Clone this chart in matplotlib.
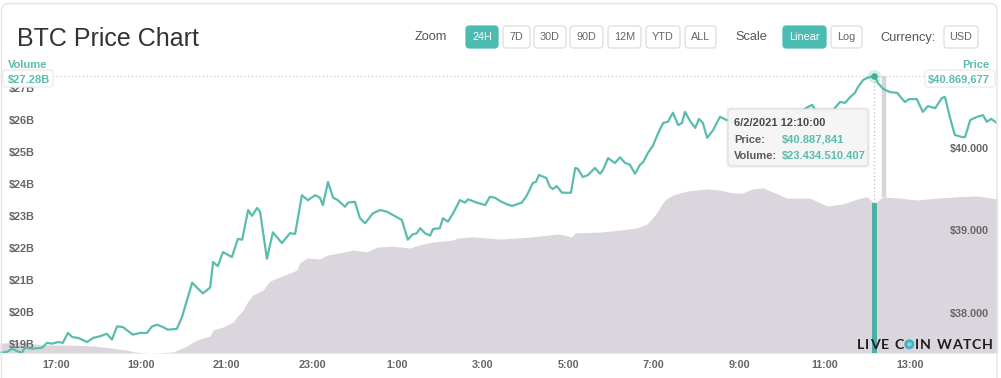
import matplotlib
matplotlib.use('Agg')
import matplotlib.pyplot as plt
import matplotlib.transforms as mtransforms
from matplotlib.patches import FancyBboxPatch, Circle
from matplotlib import font_manager as fm

plt.rcParams['font.family'] = ['Liberation Sans', 'DejaVu Sans']

# ---------------- data ----------------
price_hours = [15.69, 15.85, 15.97, 16.09, 16.20, 16.27, 16.46, 16.67, 16.79, 16.91,
               17.05, 17.16, 17.28, 17.38, 17.52, 17.73, 17.87, 18.03, 18.19, 18.31,
               18.43, 18.57, 18.80, 18.97, 19.13, 19.25, 19.37, 19.51, 19.62, 19.83,
               19.95, 20.07, 20.19, 20.30, 20.44, 20.61, 20.68, 20.79, 20.91, 21.12,
               21.26, 21.36, 21.50, 21.59, 21.71, 21.78, 21.94, 22.08, 22.29, 22.48,
               22.60, 22.76, 22.90, 23.07, 23.18, 23.25, 23.37, 23.49, 23.60, 23.77,
               23.84, 24.00, 24.12, 24.24, 24.42, 24.59, 24.75, 24.89, 25.10, 25.24,
               25.34, 25.45, 25.53, 25.64, 25.76, 25.83, 25.99, 26.06, 26.18, 26.30,
               26.46, 26.58, 26.65, 26.86, 27.05, 27.16, 27.28, 27.40, 27.56, 27.68,
               27.91, 28.03, 28.17, 28.24, 28.31, 28.48, 28.57, 28.64, 28.73, 28.85,
               29.06, 29.16, 29.22, 29.34, 29.46, 29.62, 29.74, 29.81, 29.93, 30.09,
               30.21, 30.33, 30.44, 30.56, 30.68, 30.75, 30.86, 30.98, 31.10, 31.22,
               31.33, 31.45, 31.57, 31.66, 31.73, 31.85, 31.97, 32.06, 32.15, 32.25,
               32.39, 32.55, 32.71, 32.90, 33.14, 33.37, 33.60, 33.84, 34.07, 34.31,
               34.49, 34.61, 34.71, 34.78, 34.99, 35.20, 35.36, 35.48, 35.60, 35.71,
               35.78, 35.90, 35.99, 36.17, 36.25, 36.37, 36.53, 36.70, 36.88, 36.98,
               37.16, 37.30, 37.42, 37.59, 37.75, 37.82, 37.94, 38.05, 38.22, 38.29,
               38.41, 38.57, 38.71, 38.80, 38.90, 39.04]
price_values = [37530, 37540, 37580, 37550, 37530, 37590, 37580, 37590, 37650, 37640,
                37660, 37650, 37770, 37720, 37710, 37660, 37710, 37730, 37760, 37690,
                37850, 37840, 37750, 37770, 37770, 37850, 37870, 37840, 37810, 37820,
                37960, 38170, 38380, 38320, 38250, 38320, 38630, 38580, 38750, 38690,
                38910, 38900, 39260, 39190, 39285, 39240, 38670, 38990, 38860, 38980,
                38970, 39440, 39380, 39440, 39410, 39320, 39600, 39410, 39380, 39300,
                39350, 39360, 39160, 39100, 39220, 39260, 39240, 39200, 39140, 38900,
                38960, 38980, 39040, 38980, 38950, 39030, 39040, 39160, 39120, 39220,
                39380, 39350, 39390, 39350, 39320, 39420, 39410, 39370, 39330, 39310,
                39350, 39440, 39590, 39600, 39685, 39650, 39540, 39515, 39550, 39470,
                39470, 39770, 39760, 39660, 39685, 39770, 39700, 39745, 39890, 39830,
                39900, 39830, 39810, 39700, 39810, 39840, 39950, 40040, 40190, 40315,
                40330, 40440, 40290, 40315, 40450, 40340, 40255, 40365, 40315, 40135,
                40230, 40390, 40350, 40330, 40280, 40350, 40300, 40375, 40340, 40425,
                40470, 40510, 40535, 40470, 40450, 40470, 40570, 40560, 40630, 40680,
                40750, 40835, 40860, 40888, 40800, 40730, 40690, 40680, 40570, 40605,
                40605, 40450, 40520, 40495, 40620, 40630, 40375, 40170, 40145, 40145,
                40350, 40390, 40410, 40330, 40365, 40315]

volume_hours = [15.69, 16.16, 16.70, 17.26, 17.87, 18.27, 18.66, 18.85, 19.20, 19.74,
                20.07, 20.21, 20.37, 20.61, 20.68, 20.91, 21.15, 21.24, 21.38, 21.47,
                21.61, 21.85, 22.01, 22.25, 22.48, 22.64, 22.71, 22.88, 23.18, 23.35,
                23.65, 23.96, 24.28, 24.52, 24.89, 25.29, 25.52, 25.83, 26.30, 26.39,
                26.77, 27.40, 28.17, 28.76, 29.08, 29.15, 29.74, 30.21, 30.61, 30.84,
                31.03, 31.15, 31.26, 31.45, 31.78, 32.25, 32.55, 32.85, 33.07, 33.32,
                33.56, 33.84, 34.12, 34.66, 35.06, 35.43, 35.83, 35.99, 36.17, 36.37,
                36.77, 37.16, 37.63, 38.10, 38.57, 39.04]
volume_billions = [19.06, 19.09, 19.00, 19.00, 18.97, 18.91, 18.84, 18.78, 18.75, 18.78,
                   18.97, 19.09, 19.19, 19.28, 19.47, 19.56, 19.72, 19.88, 20.09, 20.31,
                   20.56, 20.72, 21.00, 21.13, 21.25, 21.34, 21.56, 21.72, 21.69, 21.81,
                   21.88, 21.97, 21.91, 22.06, 22.09, 22.03, 22.13, 22.22, 22.28, 22.34,
                   22.38, 22.31, 22.38, 22.47, 22.38, 22.50, 22.53, 22.59, 22.66, 22.78,
                   23.06, 23.31, 23.53, 23.69, 23.81, 23.88, 23.84, 23.75, 23.75, 23.88,
                   23.91, 23.75, 23.59, 23.59, 23.34, 23.41, 23.59, 23.63, 23.43, 23.63,
                   23.59, 23.53, 23.59, 23.63, 23.66, 23.56]

volume_ticks = [19, 20, 21, 22, 23, 24, 25, 26, 27]
volume_tick_labels = ['$19B', '$20B', '$21B', '$22B', '$23B', '$24B', '$25B', '$26B', '$27B']
price_ticks = [38000, 39000, 40000]
price_tick_labels = ['$38.000', '$39.000', '$40.000']
time_ticks = [17, 19, 21, 23, 25, 27, 29, 31, 33, 35, 37]
time_tick_labels = ['17:00', '19:00', '21:00', '23:00', '1:00', '3:00', '5:00',
                    '7:00', '9:00', '11:00', '13:00']

hover_hour = 36.167
hover_price = 40887.841
hover_volume = 23.434510407
hover_date = '6/2/2021 12:10:00'
hover_price_text = '$40.887,841'
hover_volume_text = '$23.434.510.407'
crosshair_volume = 27.44
crosshair_volume_text = '$27.28B'
last_price_text = '$40.869,677'
current_hour = 36.39
current_bar_bottom = 39420

# ---------------- style ----------------
W, H = 1001, 378
TEAL = '#5abcae'
TEAL_BTN = '#4cbcb3'
FILL = '#dbd5dd'
TICK_C = '#666666'

fig = plt.figure(figsize=(W / 100, H / 100), dpi=100)
fig.patch.set_facecolor('white')

ax_top, ax_bot, ax_right = 60, 353, 997
ax = fig.add_axes([0, (H - ax_bot) / H, ax_right / W, (ax_bot - ax_top) / H])
ax.set_xlim(15.689, 39.038)
ax.set_ylim(18.75, 27.906)
ax2 = ax.twinx()
ax2.set_ylim(37527, 41079)
for a in (ax, ax2):
    for s in a.spines.values():
        s.set_visible(False)
    a.tick_params(left=False, right=False, bottom=False, top=False,
                  labelleft=False, labelright=False, labelbottom=False)
    a.patch.set_alpha(0)

# volume area
vb = ax.get_ylim()[0]
ax.fill_between(volume_hours, vb, volume_billions, color=FILL, lw=0, zorder=1)
# hovered volume bar
ax.bar([hover_hour], [hover_volume - vb], bottom=vb, width=0.115, color='#4aafa4', zorder=2)
# crosshair vertical
ax.vlines(hover_hour, hover_volume, crosshair_volume, colors='#bdbdbd',
          linestyles=(0, (1, 2)), lw=0.9, zorder=2)

# price line
ax2.axhline(hover_price, color='#cccccc', ls=(0, (1, 2)), lw=0.9, zorder=1)
ax2.vlines(current_hour, current_bar_bottom, hover_price, colors='#d6d6d6', lw=3.2, zorder=1)
ax2.plot(price_hours, price_values, color=TEAL, lw=1.6, zorder=3, solid_joinstyle='round')
ax2.scatter([hover_hour], [hover_price], s=90, color=TEAL, alpha=0.25, lw=0, zorder=4)
ax2.scatter([hover_hour], [hover_price], s=22, color='#45a99d', lw=0, zorder=5)

tick_font = dict(fontsize=7.8, fontweight='bold', color=TICK_C)
tl = mtransforms.blended_transform_factory(ax.transAxes, ax.transData)
for v, lab in zip(volume_ticks, volume_tick_labels):
    ax.text(9 / ax_right, v, lab, transform=tl, ha='left', va='center', zorder=6, **tick_font)
tr = mtransforms.blended_transform_factory(ax2.transAxes, ax2.transData)
for v, lab in zip(price_ticks, price_tick_labels):
    ax2.text(989 / ax_right, v, lab, transform=tr, ha='right', va='center', zorder=6, **tick_font)
tb = mtransforms.blended_transform_factory(ax.transData, ax.transAxes)
for t, lab in zip(time_ticks, time_tick_labels):
    ax.text(t, -(365 - ax_bot) / (ax_bot - ax_top), lab, transform=tb, ha='center',
            va='center', clip_on=False, **tick_font)

# ---------------- overlay (UI chrome) ----------------
ov = fig.add_axes([0, 0, 1, 1], zorder=10)
ov.set_xlim(0, W)
ov.set_ylim(H, 0)
ov.axis('off')
ov.patch.set_alpha(0)


def has_font(name):
    try:
        fm.findfont(fm.FontProperties(family=name), fallback_to_default=False)
        return True
    except Exception:
        return False


narrow = has_font('Liberation Sans Narrow')
ui_fam = ['Liberation Sans Narrow', 'Liberation Sans'] if narrow else ['Liberation Sans']
ui_size = 10.5 if narrow else 9.2
btn_size = 9 if narrow else 7.8

# card border
ov.add_patch(FancyBboxPatch((1.5, 3.5), 995.5, 420, boxstyle='round,pad=0,rounding_size=7',
                            ec='#e4e4e4', fc='none', lw=1, clip_on=False, zorder=0))

ov.text(17, 46.5, 'BTC Price Chart', fontsize=18, color='#333333', va='baseline', ha='left')

for lab, x in [('Zoom', 415), ('Scale', 735), ('Currency:', 880)]:
    ov.text(x, 37.5, lab, fontsize=ui_size, family=ui_fam, color='#555555', va='center', ha='left')

buttons = [('24H', 466, 498, True), ('7D', 503, 530, False), ('30D', 534, 566, False),
           ('90D', 570, 603, False), ('12M', 608, 641, False), ('YTD', 646, 680, False),
           ('ALL', 685, 716, False), ('Linear', 783, 826, True), ('Log', 831, 862, False),
           ('USD', 944, 978, False)]
for lab, x0, x1, active in buttons:
    ov.add_patch(FancyBboxPatch((x0, 26), x1 - x0, 22, boxstyle='round,pad=0,rounding_size=3.5',
                                fc=TEAL_BTN if active else 'white',
                                ec=TEAL_BTN if active else '#dddddd', lw=0.9))
    ov.text((x0 + x1) / 2, 37.5, lab, fontsize=btn_size, family=ui_fam,
            color='white' if active else '#666666', ha='center', va='center')

# axis value boxes
ov.text(8, 68, 'Volume', fontsize=8, fontweight='bold', color=TEAL, ha='left', va='baseline')
ov.add_patch(FancyBboxPatch((3, 70), 50, 17, boxstyle='round,pad=0,rounding_size=3',
                            fc='white', ec='#ececec', lw=1))
ov.text(8, 82.5, crosshair_volume_text, fontsize=8, fontweight='bold', color=TEAL,
        ha='left', va='baseline')
ov.text(989, 68, 'Price', fontsize=8, fontweight='bold', color=TEAL, ha='right', va='baseline')
ov.add_patch(FancyBboxPatch((925, 70), 70, 17, boxstyle='round,pad=0,rounding_size=3',
                            fc='white', ec='#ececec', lw=1))
ov.text(990, 82.5, last_price_text, fontsize=8, fontweight='bold', color=TEAL,
        ha='right', va='baseline')

# tooltip
ov.add_patch(FancyBboxPatch((726, 107), 144, 61, boxstyle='round,pad=0,rounding_size=3',
                            fc='#000000', ec='none', alpha=0.04))
ov.add_patch(FancyBboxPatch((728, 109), 140, 57, boxstyle='round,pad=0,rounding_size=3',
                            fc='#f6f6f6', ec='#dedede', lw=0.9, alpha=0.95))
ov.text(734, 126.5, hover_date, fontsize=8, fontweight='bold', color='#4a4a4a', va='baseline')
ov.text(734, 143, 'Price:', fontsize=8, fontweight='bold', color='#5a5a5a', va='baseline')
ov.text(734, 159, 'Volume:', fontsize=8, fontweight='bold', color='#5a5a5a', va='baseline')
ov.text(782, 143, hover_price_text, fontsize=8, fontweight='bold', color=TEAL, va='baseline')
ov.text(782, 159, hover_volume_text, fontsize=8, fontweight='bold', color=TEAL, va='baseline')

# watermark "LIVE COIN WATCH" fitted into x 857..993
fig.canvas.draw()
r = fig.canvas.get_renderer()
wm = 'LIVE COIN WATCH'
wm_font = dict(fontsize=10.2, color='#1e1e1e', family=['Lato', 'Liberation Sans'],
               fontweight='bold', ha='left', va='baseline')
coin_w = 10.0
space_w = 4.0
glyphs = []
widths = []
for i, ch in enumerate(wm):
    if ch == ' ':
        glyphs.append(('space', None))
        widths.append(space_w)
    elif ch == 'O' and wm[i - 1] == 'C':
        glyphs.append(('coin', None))
        widths.append(coin_w)
    else:
        t = ov.text(0, 349, ch, **wm_font)
        glyphs.append(('char', t))
        widths.append(t.get_window_extent(renderer=r).width)
n_gaps = len(wm) - 1
track = max(0.0, (993 - 857 - sum(widths)) / n_gaps)
x = 857
for (kind, t), w in zip(glyphs, widths):
    if kind == 'char':
        t.set_x(x)
    elif kind == 'coin':
        ov.add_patch(Circle((x + w / 2, 344.3), 5.0, fc='#3fb3c4', ec='none'))
        ov.add_patch(Circle((x + w / 2, 344.3), 2.2, fc='#86d3de', ec='none'))
    x += w + track

fig.savefig('out.png', dpi=100, facecolor='white')
